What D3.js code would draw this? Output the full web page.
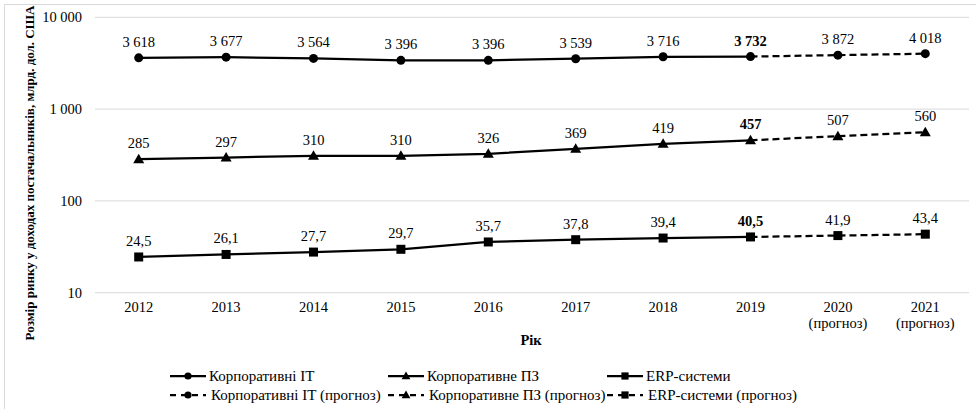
<!DOCTYPE html>
<html><head><meta charset="utf-8">
<script src="https://cdn.jsdelivr.net/npm/d3@7"></script>
<style>body{margin:0;background:#fff}svg{display:block}</style>
</head><body><svg id="c" width="976" height="409"></svg>
<script>
const FONT = "'Liberation Serif'";
const years = ["2012","2013","2014","2015","2016","2017","2018","2019","2020","2021"];
const yearSub = ["","","","","","","","","(прогноз)","(прогноз)"];
const itValues = [3618,3677,3564,3396,3396,3539,3716,3732,3872,4018];
const itLabels = ["3 618","3 677","3 564","3 396","3 396","3 539","3 716","3 732","3 872","4 018"];
const swValues = [285,297,310,310,326,369,419,457,507,560];
const swLabels = ["285","297","310","310","326","369","419","457","507","560"];
const erpValues = [24.5,26.1,27.7,29.7,35.7,37.8,39.4,40.5,41.9,43.4];
const erpLabels = ["24,5","26,1","27,7","29,7","35,7","37,8","39,4","40,5","41,9","43,4"];
const yTicks = [10,100,1000,10000];
const yTickLabels = ["10","100","1 000","10 000"];
const forecastStart = 7; // index of 2019, last actual
const legendNames = ["Корпоративні ІТ","Корпоративне ПЗ","ERP-системи","Корпоративні ІТ (прогноз)","Корпоративне ПЗ (прогноз)","ERP-системи (прогноз)"];

const svg = d3.select("#c");
svg.append("rect").attr("x",4.5).attr("y",4.5).attr("width",1000).attr("height",1000)
  .attr("fill","none").attr("stroke","#d9d9d9");

const x = d3.scaleBand().domain(years).range([95,969]);
const y = d3.scaleLog().domain([10,10000]).range([292.7,17.3]);
const cx = d => x(d) + x.bandwidth()/2;

svg.append("g").selectAll("line").data(yTicks).join("line")
  .attr("x1",95).attr("x2",969).attr("y1",d=>y(d)).attr("y2",d=>y(d))
  .attr("stroke","#d9d9d9").attr("stroke-width",1);

const yAxis = d3.axisLeft(y).tickValues(yTicks).tickFormat((d,i)=>yTickLabels[i]).tickSize(0).tickPadding(0);
const yg = svg.append("g").attr("transform","translate(82,0)").call(yAxis);
yg.select(".domain").remove();
yg.selectAll("text").style("font-family",FONT).style("font-size","14.5px").attr("fill","#000");

const xAxis = d3.axisBottom(x).tickSize(0).tickPadding(0);
const xg = svg.append("g").attr("transform","translate(0,300)").call(xAxis);
xg.select(".domain").remove();
xg.selectAll("text").attr("dy","0.8em").style("font-family",FONT).style("font-size","14.5px").attr("fill","#000");
xg.selectAll(".tick").each(function(d,i){
  if(yearSub[i]) d3.select(this).append("text").attr("y",16).attr("dy","0.8em")
    .attr("fill","#000").attr("text-anchor","middle").style("font-family",FONT).style("font-size","14.5px").text(yearSub[i]);
});

svg.append("text").attr("transform","translate(34,173) rotate(-90)").attr("text-anchor","middle")
  .style("font-family",FONT).style("font-size","13px").attr("font-weight","bold").text("Розмір ринку у доходах постачальників, млрд. дол. США");
svg.append("text").attr("x",531).attr("y",345).attr("text-anchor","middle")
  .style("font-family",FONT).style("font-size","14.5px").attr("font-weight","bold").text("Рік");

const series = [
  {vals:itValues, labels:itLabels, shape:"circle"},
  {vals:swValues, labels:swLabels, shape:"triangle"},
  {vals:erpValues, labels:erpLabels, shape:"square"}
];
function marker(g, shape, px, py, s){
  s = s || 1;
  if(shape==="circle") g.append("circle").attr("cx",px).attr("cy",py).attr("r",4.5*s).attr("fill","#000");
  else if(shape==="square") g.append("rect").attr("x",px-4.5*s).attr("y",py-4.5*s).attr("width",9*s).attr("height",9*s).attr("fill","#000");
  else g.append("path").attr("d",`M${px},${py-5.5*s}L${px+5.5*s},${py+4*s}L${px-5.5*s},${py+4*s}Z`).attr("fill","#000");
}
const line = d3.line().x(d=>cx(d.year)).y(d=>y(d.v));
series.forEach(s=>{
  const pts = years.map((yr,i)=>({year:yr,v:s.vals[i],label:s.labels[i],i}));
  const g = svg.append("g");
  g.append("path").attr("d",line(pts.slice(0,forecastStart+1))).attr("fill","none").attr("stroke","#000").attr("stroke-width",2.25);
  g.append("path").attr("d",line(pts.slice(forecastStart))).attr("fill","none").attr("stroke","#000").attr("stroke-width",2.25).attr("stroke-dasharray","7,4");
  pts.forEach(p=>{
    marker(g, s.shape, cx(p.year), y(p.v));
    g.append("text").attr("x",cx(p.year)).attr("y",y(p.v)-11).attr("text-anchor","middle")
      .style("font-family",FONT).style("font-size","14.5px").attr("font-weight",p.i===forecastStart?"bold":"normal").text(p.label);
  });
});

const legCols = [170,388,607];
const legRows = [376,395];
const shapes = ["circle","triangle","square"];
legendNames.forEach((name,k)=>{
  const col = k%3, row = Math.floor(k/3);
  const lx = legCols[col], ly = legRows[row];
  const g = svg.append("g");
  g.append("line").attr("x1",lx).attr("x2",lx+36).attr("y1",ly).attr("y2",ly).attr("stroke","#000").attr("stroke-width",2.25)
    .attr("stroke-dasharray",row===1?"6,5":null);
  marker(g, shapes[col], lx+18, ly, 0.8);
  g.append("text").attr("x",lx+39+(row===1?2:0)).attr("y",ly).attr("dy","0.35em")
    .style("font-family",FONT).style("font-size","15px").text(name);
});
</script></body></html>
